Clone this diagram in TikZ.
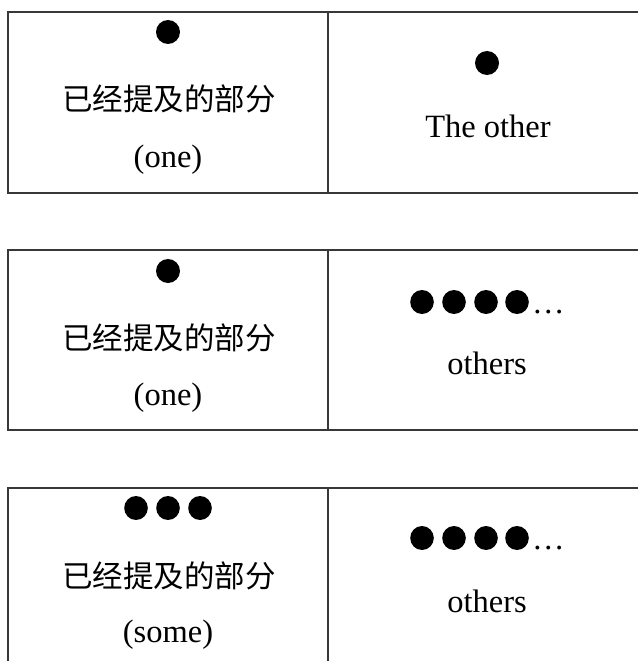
\documentclass[tikz,border=0pt]{standalone}
\usepackage{fontspec}
\setmainfont{Liberation Serif}
\newfontfamily\cjk{Noto Sans CJK SC}
\begin{document}
\begin{tikzpicture}[x=1pt,y=-1pt,
  rule/.style={draw=black!78,line width=1.3pt},
  dot/.style={fill=black,draw=none},
  lat/.style={inner sep=0pt,anchor=base,font=\fontsize{32.5}{38}\selectfont},
  zh/.style={inner sep=0pt,anchor=center,font=\cjk\fontsize{30.5}{36}\selectfont}]
\useasboundingbox (0,0) rectangle (638,661);
% ---------- table 1 ----------
\draw[rule] (638,12) -- (8,12) -- (8,193) -- (638,193);
\draw[rule] (328,12) -- (328,193);
\fill[dot] (168,32) ellipse [x radius=12, y radius=12];
\node[zh] (z1) at (169,99) {已经提及的部分};
\node[lat] (o1) at (168,167) {(one)};
\fill[dot] (487,63) ellipse [x radius=12, y radius=12];
\node[lat] (t1) at (488,137) {The other};
% ---------- table 2 ----------
\draw[rule] (638,250) -- (8,250) -- (8,430) -- (638,430);
\draw[rule] (328,250) -- (328,430);
\fill[dot] (168,271) ellipse [x radius=12, y radius=12];
\node[zh] (z2) at (169,338) {已经提及的部分};
\node[lat] (o2) at (168,405) {(one)};
\foreach \x in {422,454,486,517} \fill[dot] (\x,302) ellipse [x radius=11.8, y radius=12];
\node[lat,anchor=base west] (e2) at (532,313) {…};
\node[lat] (s2) at (487,374) {others};
% ---------- table 3 ----------
\draw[rule] (638,488) -- (8,488) -- (8,661);
\draw[rule] (328,488) -- (328,661);
\foreach \x in {136,168,200} \fill[dot] (\x,508) ellipse [x radius=11.8, y radius=12];
\node[zh] (z3) at (169,576) {已经提及的部分};
\node[lat] (o3) at (168,642) {(some)};
\foreach \x in {422,454,486,517} \fill[dot] (\x,538) ellipse [x radius=11.8, y radius=12];
\node[lat,anchor=base west] (e3) at (532,549) {…};
\node[lat] (s3) at (487,612) {others};
\end{tikzpicture}
\end{document}
